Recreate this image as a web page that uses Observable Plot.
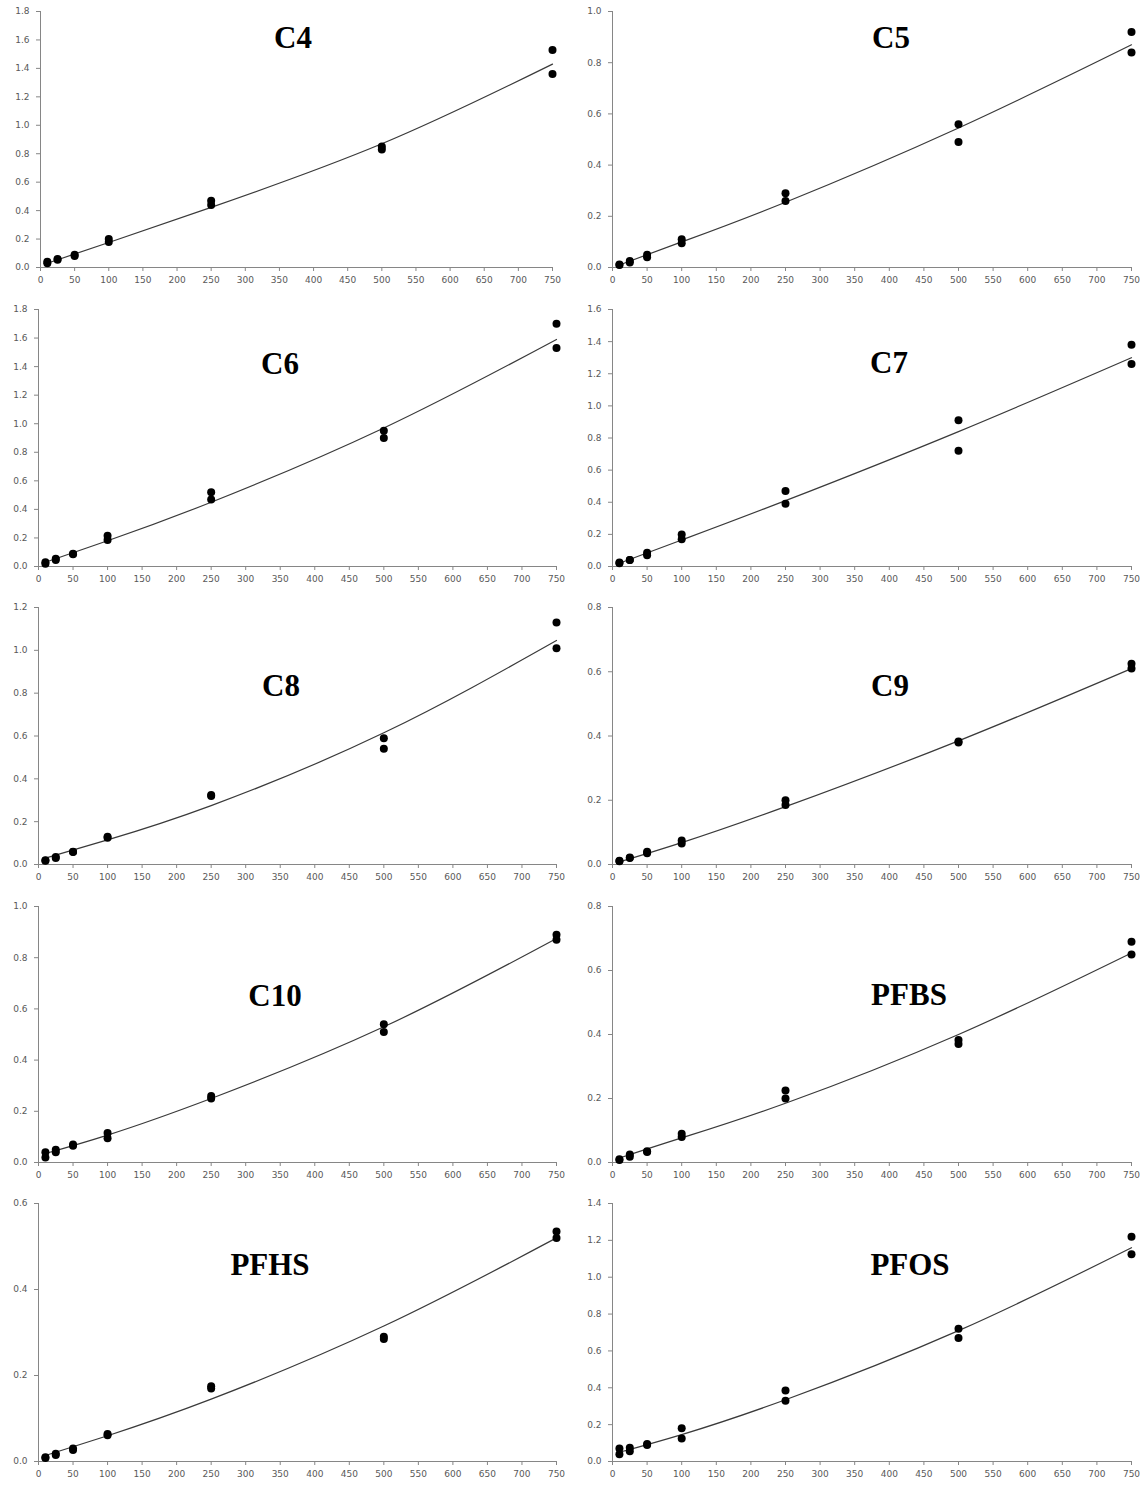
<!DOCTYPE html>
<html><head><meta charset="utf-8">
<script src="https://cdn.jsdelivr.net/npm/d3@7"></script>
<script src="https://cdn.jsdelivr.net/npm/@observablehq/plot@0.6"></script>
<style>
html,body{margin:0;padding:0;background:#fff;}
#root{position:relative;width:1146px;height:1485px;overflow:hidden;background:#fff;}
#root svg{position:absolute;overflow:visible;max-width:none;}
</style></head><body><div id="root"></div>
<script>
// ---------- data ----------
const concentrations = [10, 25, 50, 100, 250, 500, 750];
const xTickValues = [0, 50, 100, 150, 200, 250, 300, 350, 400, 450, 500, 550, 600, 650, 700, 750];
const fitX = [10, 100, 250, 500, 750];
const panelNames = ["C4", "C5", "C6", "C7", "C8", "C9", "C10", "PFBS", "PFHS", "PFOS"];
const yMaxima = [1.8, 1.0, 1.8, 1.6, 1.2, 0.8, 1.0, 0.8, 0.6, 1.4];
const yTickStep = 0.2;

const C4_rep1 = [0.04, 0.06, 0.09, 0.20, 0.47, 0.85, 1.53];
const C4_rep2 = [0.03, 0.055, 0.08, 0.18, 0.44, 0.83, 1.36];
const C4_fit = [0.03, 0.176, 0.423, 0.87, 1.43];

const C5_rep1 = [0.012, 0.025, 0.05, 0.11, 0.29, 0.56, 0.92];
const C5_rep2 = [0.01, 0.02, 0.04, 0.095, 0.26, 0.49, 0.84];
const C5_fit = [0.01, 0.1, 0.255, 0.545, 0.87];

const C6_rep1 = [0.03, 0.055, 0.09, 0.215, 0.52, 0.95, 1.70];
const C6_rep2 = [0.02, 0.045, 0.085, 0.185, 0.47, 0.90, 1.53];
const C6_fit = [0.03, 0.18, 0.45, 0.97, 1.59];

const C7_rep1 = [0.025, 0.04, 0.085, 0.20, 0.47, 0.91, 1.38];
const C7_rep2 = [0.02, 0.04, 0.07, 0.17, 0.39, 0.72, 1.26];
const C7_fit = [0.02, 0.165, 0.41, 0.84, 1.30];

const C8_rep1 = [0.02, 0.035, 0.06, 0.13, 0.325, 0.59, 1.13];
const C8_rep2 = [0.018, 0.03, 0.058, 0.125, 0.32, 0.54, 1.01];
const C8_fit = [0.03, 0.115, 0.275, 0.615, 1.046];

const C9_rep1 = [0.012, 0.022, 0.04, 0.075, 0.20, 0.383, 0.625];
const C9_rep2 = [0.01, 0.02, 0.035, 0.065, 0.185, 0.38, 0.61];
const C9_fit = [0.008, 0.068, 0.18, 0.385, 0.61];

const C10_rep1 = [0.04, 0.05, 0.07, 0.115, 0.26, 0.54, 0.89];
const C10_rep2 = [0.02, 0.04, 0.065, 0.095, 0.25, 0.51, 0.87];
const C10_fit = [0.035, 0.107, 0.25, 0.53, 0.875];

const PFBS_rep1 = [0.01, 0.025, 0.035, 0.09, 0.225, 0.383, 0.69];
const PFBS_rep2 = [0.008, 0.018, 0.033, 0.08, 0.20, 0.37, 0.65];
const PFBS_fit = [0.014, 0.077, 0.185, 0.40, 0.655];

const PFHS_rep1 = [0.01, 0.018, 0.03, 0.064, 0.175, 0.29, 0.535];
const PFHS_rep2 = [0.008, 0.015, 0.027, 0.061, 0.17, 0.285, 0.52];
const PFHS_fit = [0.014, 0.06, 0.145, 0.315, 0.52];

const PFOS_rep1 = [0.07, 0.075, 0.09, 0.18, 0.385, 0.72, 1.22];
const PFOS_rep2 = [0.04, 0.055, 0.095, 0.125, 0.33, 0.67, 1.125];
const PFOS_fit = [0.05, 0.146, 0.335, 0.71, 1.16];

// tables built from the arrays above
const rep1 = [C4_rep1, C5_rep1, C6_rep1, C7_rep1, C8_rep1, C9_rep1, C10_rep1, PFBS_rep1, PFHS_rep1, PFOS_rep1];
const rep2 = [C4_rep2, C5_rep2, C6_rep2, C7_rep2, C8_rep2, C9_rep2, C10_rep2, PFBS_rep2, PFHS_rep2, PFOS_rep2];
const fits = [C4_fit, C5_fit, C6_fit, C7_fit, C8_fit, C9_fit, C10_fit, PFBS_fit, PFHS_fit, PFOS_fit];

// ---------- layout (pixels) ----------
const colSvgLeft = [0, 573];
const colSvgWidth = [573, 573];
const panelPlotX = [[40, 552], [612, 1131], [38, 556], [612, 1131], [38, 556], [612, 1131], [38, 556], [612, 1131], [38, 556], [612, 1131]];
const rowPlotY = [[11, 267], [309, 566], [607, 864], [906, 1162], [1203, 1461]];
const titlePos = [[293, 48], [891, 48], [280, 374], [889, 373], [281, 696], [890, 696], [275, 1006], [909, 1005], [270, 1275], [910, 1275]];
const padTop = 12, padBottom = 28;

const root = document.getElementById("root");

panelNames.forEach((name, i) => {
  const row = Math.floor(i / 2), col = i % 2;
  const [x0, x1] = panelPlotX[i];
  const [y0, y1] = rowPlotY[row];
  const left = colSvgLeft[col], width = colSvgWidth[col];
  const top = y0 - padTop;
  const height = (y1 - y0) + padTop + padBottom;
  const points = concentrations.flatMap((c, k) => [
    {x: c, y: rep1[i][k]},
    {x: c, y: rep2[i][k]}
  ]);
  const fitLine = fitX.map((c, k) => ({x: c, y: fits[i][k]}));
  const yTicks = d3.range(0, yMaxima[i] + 1e-9, yTickStep);
  const svg = Plot.plot({
    width, height,
    marginLeft: x0 - left,
    marginRight: left + width - x1,
    marginTop: padTop,
    marginBottom: padBottom,
    x: {domain: [0, 750]},
    y: {domain: [0, yMaxima[i]]},
    style: {background: "transparent", fontFamily: "DejaVu Sans, Verdana, sans-serif", fontSize: "9px", overflow: "visible"},
    marks: [
      Plot.axisX({ticks: xTickValues, tickSize: 4, tickPadding: 5, stroke: "#868686", fill: "#595959", tickFormat: d => String(d), label: null}),
      Plot.axisY({ticks: yTicks, tickSize: 4, tickPadding: 7, stroke: "#868686", fill: "#595959", tickFormat: d3.format(".1f"), label: null}),
      Plot.ruleY([0], {stroke: "#868686"}),
      Plot.ruleX([0], {stroke: "#868686"}),
      Plot.line(fitLine, {x: "x", y: "y", curve: "natural", stroke: "#3a3a3a", strokeWidth: 1.2}),
      Plot.dot(points, {x: "x", y: "y", r: 4, fill: "#000", stroke: "none"})
    ]
  });
  svg.style.left = left + "px";
  svg.style.top = top + "px";
  root.appendChild(svg);
});

// titles overlay
const overlay = d3.select(root).append("svg")
  .attr("width", 1146).attr("height", 1485)
  .style("left", "0px").style("top", "0px").style("pointer-events", "none");
panelNames.forEach((name, i) => {
  const [cx, by] = titlePos[i];
  overlay.append("text")
    .attr("x", cx).attr("y", by)
    .attr("text-anchor", "middle")
    .attr("font-family", "Liberation Serif, Times New Roman, serif")
    .attr("font-weight", "bold")
    .attr("font-size", 31)
    .attr("fill", "#000")
    .text(name);
});
</script>
</body></html>
